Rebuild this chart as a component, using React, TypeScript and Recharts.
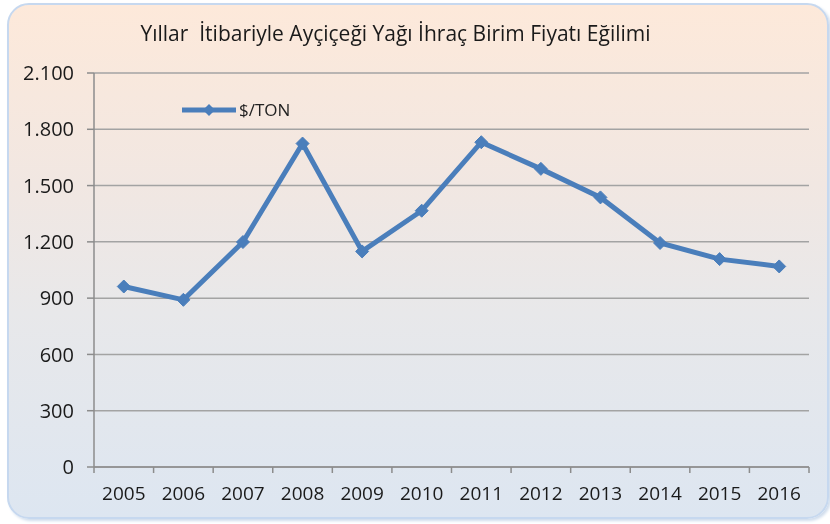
import { CartesianGrid, Legend, Line, LineChart, XAxis, YAxis } from "recharts";

const years = ["2005", "2006", "2007", "2008", "2009", "2010", "2011", "2012", "2013", "2014", "2015", "2016"];
const pricePerTon = [962, 891, 1199, 1724, 1149, 1366, 1731, 1589, 1437, 1194, 1108, 1069];
const yTicks = [0, 300, 600, 900, 1200, 1500, 1800, 2100];
const seriesName = "$/TON";
const title = "Yıllar  İtibariyle Ayçiçeği Yağı İhraç Birim Fiyatı Eğilimi";

const BLUE = "#4a7ebb";
const FONT = "'Open Sans', sans-serif";

const data = years.map((year, i) => ({ pos: i + 0.5, year, price: pricePerTon[i] }));
const bandEdges = years.map((_, i) => i).concat(years.length);
const bandCenters = data.map((d) => d.pos);

const trNumber = (v: number) => String(v).replace(/\B(?=(\d{3})+(?!\d))/g, ".");

function Diamond(props: any) {
  const { cx, cy } = props;
  if (cx == null || cy == null) return null;
  const r = 6.5;
  return <path d={`M${cx},${cy - r}L${cx + r},${cy}L${cx},${cy + r}L${cx - r},${cy}Z`} fill={BLUE} stroke={BLUE} />;
}

function LegendBox() {
  return (
    <div style={{ display: "flex", alignItems: "center", fontFamily: FONT, fontSize: 17, color: "#222" }}>
      <svg width={58} height={14}>
        <line x1={2} y1={7} x2={56} y2={7} stroke={BLUE} strokeWidth={5} />
        <path d="M29,1L35,7L29,13L23,7Z" fill={BLUE} />
      </svg>
      <span style={{ marginLeft: 1 }}>{seriesName}</span>
    </div>
  );
}

export default function App() {
  return (
    <div style={{ position: "fixed", left: 0, top: 0, width: 830, height: 524, overflow: "hidden" }}>
      <div
        style={{
          position: "absolute",
          left: 7,
          top: 3,
          width: 818,
          height: 512,
          borderRadius: 22,
          border: "2px solid #c6d8ef",
          boxShadow: "2px 2px 3px #cfdcec",
          background: "linear-gradient(180deg, #fde9da 0%, #f1e7e2 35%, #e8e8ea 60%, #dde6f1 100%)",
        }}
      />
      <div
        style={{
          position: "absolute",
          left: 0,
          width: 791,
          top: 19,
          textAlign: "center",
          whiteSpace: "pre",
          fontFamily: FONT,
          fontSize: 21,
          color: "#1a1a1a",
        }}
      >
        {title}
      </div>
      <div style={{ position: "absolute", left: 0, top: 0 }}>
        <LineChart width={830} height={524} data={data} margin={{ top: 73, right: 21, left: 0, bottom: 0 }}>
          <CartesianGrid xAxisId="bands" vertical={false} stroke="#a3a3a3" strokeWidth={1.5} />
          <XAxis
            xAxisId="bands"
            type="number"
            dataKey="pos"
            domain={[0, years.length]}
            ticks={bandEdges}
            interval={0}
            tickFormatter={() => ""}
            tickSize={6}
            height={6}
            stroke="#8c8c8c"
            strokeWidth={1.5}
          />
          <XAxis
            xAxisId="labels"
            type="number"
            dataKey="pos"
            domain={[0, years.length]}
            ticks={bandCenters}
            interval={0}
            tickFormatter={(v: number) => years[Math.floor(v)]}
            axisLine={false}
            tickLine={false}
            tickSize={0}
            tickMargin={14}
            height={51}
            tick={{ fill: "#1a1a1a", fontSize: 19, fontFamily: FONT }}
          />
          <YAxis
            type="number"
            domain={[0, 2100]}
            ticks={yTicks}
            tickFormatter={trNumber}
            width={94}
            tickSize={7}
            tickMargin={13}
            interval={0}
            stroke="#8c8c8c"
            strokeWidth={1.5}
            tick={{ fill: "#1a1a1a", fontSize: 20, fontFamily: FONT }}
          />
          <Legend
            layout="vertical"
            verticalAlign="middle"
            align="center"
            content={() => <LegendBox />}
            wrapperStyle={{ left: 180, top: 98, width: 140, height: 18 }}
          />
          <Line
            xAxisId="bands"
            type="linear"
            dataKey="price"
            name={seriesName}
            stroke={BLUE}
            strokeWidth={5}
            dot={<Diamond />}
            activeDot={false}
            isAnimationActive={false}
          />
        </LineChart>
      </div>
    </div>
  );
}
